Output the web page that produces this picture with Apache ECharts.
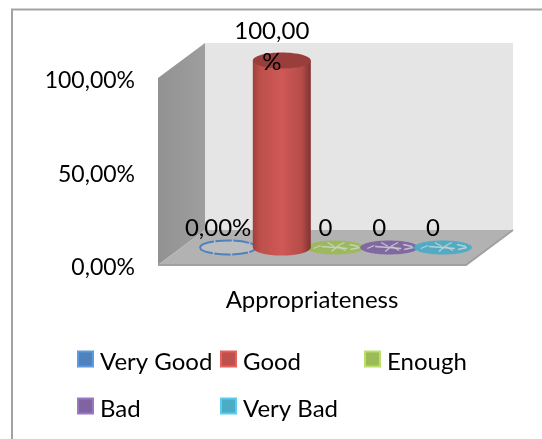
<!DOCTYPE html>
<html>
<head>
<meta charset="utf-8">
<script src="https://cdn.jsdelivr.net/npm/echarts@6/dist/echarts.min.js"></script>
<style>
html, body { margin: 0; padding: 0; background: #fff; }
#chart { width: 542px; height: 439px; }
</style>
</head>
<body>
<div id="chart"></div>
<script>
const categories = ['Appropriateness'];
const seriesNames = ['Very Good', 'Good', 'Enough', 'Bad', 'Very Bad'];
const seriesValues = [0, 100, 0, 0, 0];
const seriesLabels = ['0,00%', '100,00\n%', '0', '0', '0'];
const seriesColors = ['#4f81bd', '#c0504d', '#9bbb59', '#8064a2', '#4bacc6'];
const yTicks = { min: 0, max: 100, interval: 50 };

const fontFamily = 'Lato, "Open Sans", sans-serif';
const fontSize = 24;
const tickFontSize = 23;

// depth of the fake 3d box, in pixels
const depthX = 47;
const depthY = -35;
const spacing = 53.7;
const radiusX = 29;
const radiusY = 8;

function renderBox(params, api) {
  const a = api.coord([0, yTicks.min]);
  const size = api.size([1, 0]);
  const top = api.coord([0, yTicks.max])[1];
  const x0 = a[0] - size[0] / 2;
  const x1 = a[0] + size[0] / 2;
  const y0 = a[1];
  const wall = (points, fill) => ({
    type: 'polygon',
    shape: { points: points },
    style: { fill: fill }
  });
  return {
    type: 'group',
    children: [
      wall([[x0 + depthX, top + depthY], [x1 + depthX, top + depthY], [x1 + depthX, y0 + depthY], [x0 + depthX, y0 + depthY]], '#e5e5e5'),
      wall([[x0, top], [x0 + depthX, top + depthY], [x0 + depthX, y0 + depthY], [x0, y0]], {
        type: 'linear', x: 0, y: 0, x2: 1, y2: 0,
        colorStops: [{ offset: 0, color: '#929292' }, { offset: 1, color: '#9e9e9e' }]
      }),
      wall([[x0, y0], [x0 + depthX, y0 + depthY], [x1 + depthX, y0 + depthY], [x1, y0]], '#b2b2b2'),
      {
        type: 'polyline',
        shape: { points: [[x0, y0], [x1, y0], [x1 + depthX, y0 + depthY]] },
        style: { stroke: '#a0a0a0', lineWidth: 2, fill: null }
      }
    ]
  };
}

// light scratches across the flat discs, like the source picture
const scratches = [
  [-14, -1, 12, 1], [-4, 4, 3, -2], [3, -2, 9, -5], [3, -1, 10, 3],
  [14, -3, 23, -1], [15, 2, 24, 0], [-22, 1, -15, -2], [-8, -5, -1, -1]
];

function renderCylinder(index) {
  return function (params, api) {
    const base = api.coord([0, 0]);
    const head = api.coord([0, api.value(0)]);
    const cx = base[0] + depthX / 2 + (index - (seriesNames.length - 1) / 2) * spacing;
    const by = base[1] + depthY / 2;
    const ty = head[1] + depthY / 2;
    const color = seriesColors[index];
    const tall = ty < by;
    const children = [];
    if (tall) {
      children.push({
        type: 'path',
        shape: {
          pathData: 'M' + (cx - radiusX) + ' ' + ty + 'L' + (cx - radiusX) + ' ' + by +
            'A' + radiusX + ' ' + radiusY + ' 0 0 0 ' + (cx + radiusX) + ' ' + by +
            'L' + (cx + radiusX) + ' ' + ty + 'Z'
        },
        style: {
          fill: {
            type: 'linear', x: 0, y: 0, x2: 1, y2: 0,
            colorStops: [
              { offset: 0, color: '#a03f3c' },
              { offset: 0.12, color: '#bd4f4b' },
              { offset: 0.5, color: '#cf5957' },
              { offset: 0.85, color: '#b54b48' },
              { offset: 1, color: '#7e3230' }
            ]
          }
        }
      });
      children.push({
        type: 'ellipse',
        shape: { cx: cx, cy: ty, rx: radiusX, ry: radiusY },
        style: { fill: '#9a3e3b' }
      });
    } else if (index === 0) {
      // the first empty series is only an outline
      children.push({
        type: 'ellipse',
        shape: { cx: cx, cy: by, rx: radiusX - 1, ry: radiusY - 1 },
        style: { fill: '#bcbdbf', stroke: color, lineWidth: 2, lineDash: [16, 1.5] }
      });
    } else {
      children.push({
        type: 'ellipse',
        shape: { cx: cx, cy: by, rx: radiusX, ry: radiusY - 1 },
        style: { fill: color, opacity: 0.95 }
      });
      scratches.forEach((s) => {
        children.push({
          type: 'line',
          shape: { x1: cx + s[0], y1: by + s[1], x2: cx + s[2], y2: by + s[3] },
          style: { stroke: '#cfd2d0', lineWidth: 1.3, opacity: 0.85 }
        });
      });
    }
    children.push({
      type: 'text',
      style: {
        text: seriesLabels[index],
        x: cx - 10,
        y: tall ? ty - 14 : ty - 19,
        align: 'center',
        verticalAlign: 'middle',
        font: fontSize + 'px ' + fontFamily,
        lineHeight: 31,
        fill: '#000'
      }
    });
    return { type: 'group', children: children };
  };
}

// one legend per entry so the columns line up like the original
const legendSpots = [[77, 350], [220, 350], [364, 350], [77, 397], [220, 397]];

const chart = echarts.init(document.getElementById('chart'));
chart.setOption({
  backgroundColor: '#fff',
  animation: false,
  textStyle: { fontFamily: fontFamily },
  grid: { left: 158, right: 76, top: 78, bottom: 174 },
  legend: seriesNames.map((name, i) => ({
    data: [name],
    left: legendSpots[i][0],
    top: legendSpots[i][1],
    padding: 0,
    icon: 'rect',
    itemWidth: 15,
    itemHeight: 15,
    itemGap: 0,
    selectedMode: false,
    textStyle: {
      rich: { t: { fontSize: fontSize, fontFamily: fontFamily, color: '#000', padding: [6, 0, 0, 2] } }
    },
    formatter: (n) => '{t|' + n + '}'
  })),
  xAxis: {
    type: 'category',
    data: categories,
    axisLine: { show: false },
    axisTick: { show: false },
    axisLabel: { fontSize: fontSize, color: '#000', margin: 23 }
  },
  yAxis: {
    type: 'value',
    min: yTicks.min,
    max: yTicks.max,
    interval: yTicks.interval,
    axisLine: { show: false },
    axisTick: { show: false },
    splitLine: { show: false },
    axisLabel: {
      color: '#000',
      margin: 23,
      rich: { v: { fontSize: tickFontSize, fontFamily: fontFamily, color: '#000', padding: [6, 0, 0, 0] } },
      formatter: (v) => '{v|' + v.toFixed(2).replace('.', ',') + '%}'
    }
  },
  graphic: [{
    type: 'polyline',
    shape: { points: [[12, 439], [12, 9.5], [542, 9.5]] },
    style: { fill: null, stroke: '#a3a3a3', lineWidth: 2 },
    silent: true
  }],
  series: [
    {
      type: 'custom',
      name: 'box',
      data: [0],
      clip: false,
      silent: true,
      renderItem: renderBox,
      encode: { x: 0 },
      z: 1
    }
  ].concat(seriesNames.map((name, i) => ({
    type: 'custom',
    name: name,
    data: [seriesValues[i]],
    clip: false,
    silent: true,
    itemStyle: { color: seriesColors[i], borderColor: echarts.color.lift(seriesColors[i], -0.2), borderWidth: 1 },
    encode: { y: 0 },
    renderItem: renderCylinder(i),
    z: 2 + (i === 1 ? 1 : 0)
  })))
});
</script>
</body>
</html>
